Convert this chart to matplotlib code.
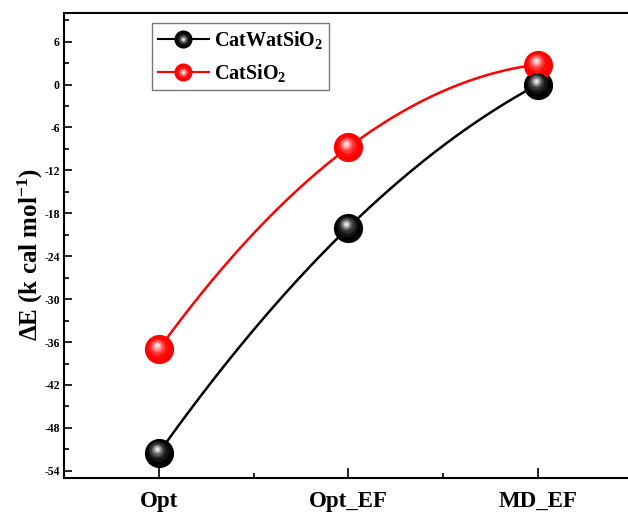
import numpy as np
import matplotlib
matplotlib.use('Agg')
import matplotlib.pyplot as plt
from matplotlib.transforms import offset_copy
from matplotlib.lines import Line2D
from matplotlib.legend_handler import HandlerTuple

# categories and energies (kcal/mol)
categories = ['Opt', 'Opt_EF', 'MD_EF']
cat_wat_sio2 = [-51.5, -20.0, 0.0]
cat_sio2 = [-37.0, -8.8, 2.8]

plt.rcParams['font.family'] = 'Liberation Serif'
plt.rcParams['font.weight'] = 'bold'
plt.rcParams['axes.unicode_minus'] = False
plt.rcParams['mathtext.fontset'] = 'custom'
plt.rcParams['mathtext.rm'] = 'Liberation Serif:bold'
plt.rcParams['mathtext.bf'] = 'Liberation Serif:bold'
plt.rcParams['mathtext.it'] = 'Liberation Serif:bold'

fig = plt.figure(figsize=(6.28, 5.12), dpi=100)
ax = fig.add_axes([64 / 628, 34 / 512, 568.5 / 628, 465 / 512])

x = np.arange(len(categories))
xs = np.linspace(0, 2, 200)

# sphere shading layers: (size pt, colour, dx, dy) for each series
black_layers = [(15, '#141414', -0.6, 1.2), (11.5, '#333333', -1.0, 1.8),
                (8.5, '#5e5e5e', -1.3, 2.3), (6, '#959595', -1.5, 2.6),
                (3.8, '#c8c8c8', -1.6, 2.8), (1.8, '#f0f0f0', -1.6, 2.9)]
red_layers = [(15, '#ff0d0d', -0.6, 1.2), (11.5, '#ff3333', -1.0, 1.8),
              (8.5, '#ff6464', -1.3, 2.3), (6, '#ff9898', -1.5, 2.6),
              (3.8, '#ffc8c8', -1.6, 2.8), (1.8, '#fff0f0', -1.6, 2.9)]

series = [
    (cat_wat_sio2, 'black', black_layers, r'CatWatSiO$_2$'),
    (cat_sio2, '#ff0000', red_layers, r'CatSiO$_2$'),
]

handles = []
for vals, col, layers, lab in series:
    # smooth connecting curve through the three points
    coef = np.polyfit(x, vals, 2)
    ax.plot(xs, np.polyval(coef, xs), color=col, lw=1.8, zorder=2)
    ax.plot(x, vals, 'o', ms=20, color=col, mec=col, zorder=3)
    hs = [Line2D([], [], color=col, lw=1.5),
          Line2D([], [], marker='o', ls='none', ms=12, color=col)]
    for i, (s, c, dx, dy) in enumerate(layers):
        tr = offset_copy(ax.transData, fig=fig, x=dx, y=dy, units='points')
        ax.plot(x, vals, 'o', ms=s, color=c, mec='none', transform=tr,
                zorder=4 + i)
        hs.append(Line2D([], [], marker='o', ls='none', ms=s * 0.6, color=c,
                         mec='none'))
    handles.append((tuple(hs), lab))

ax.set_xlim(-0.5, 2.5)
ax.set_ylim(-55, 10)
ax.set_xticks(x)
ax.set_xticklabels(categories, fontsize=16.5, fontweight='bold')
ax.set_xticks([0.5, 1.5], minor=True)
ax.set_yticks(np.arange(-54, 7, 6))
ax.set_yticks(np.arange(-51, 10, 6), minor=True)
ax.tick_params(axis='y', labelsize=8.5, direction='in', length=6, width=1.2, pad=3)
ax.tick_params(axis='x', direction='in', length=7, width=1.2, pad=9)
ax.tick_params(which='minor', direction='in', length=3.5, width=1.2)
for lbl in ax.get_yticklabels():
    lbl.set_fontweight('bold')

ax.spines['right'].set_visible(False)
for s in ['left', 'top', 'bottom']:
    ax.spines[s].set_linewidth(1.5)

ax.set_ylabel(r'ΔE (k cal mol$^{-1}$)', fontsize=18, fontweight='bold')
ax.yaxis.set_label_coords(-0.034, 0.48)

leg = ax.legend([h for h, _ in handles], [l for _, l in handles],
                handler_map={tuple: HandlerTuple(ndivide=1)},
                loc='upper left', bbox_to_anchor=(0.155, 0.978),
                borderaxespad=0, fontsize=14.5, frameon=True, fancybox=False,
                handlelength=2.5, handletextpad=0.25, borderpad=0.3,
                labelspacing=0.55)
leg.get_frame().set_edgecolor('#555555')
leg.get_frame().set_linewidth(1.0)

fig.savefig('out.png', dpi=100)
